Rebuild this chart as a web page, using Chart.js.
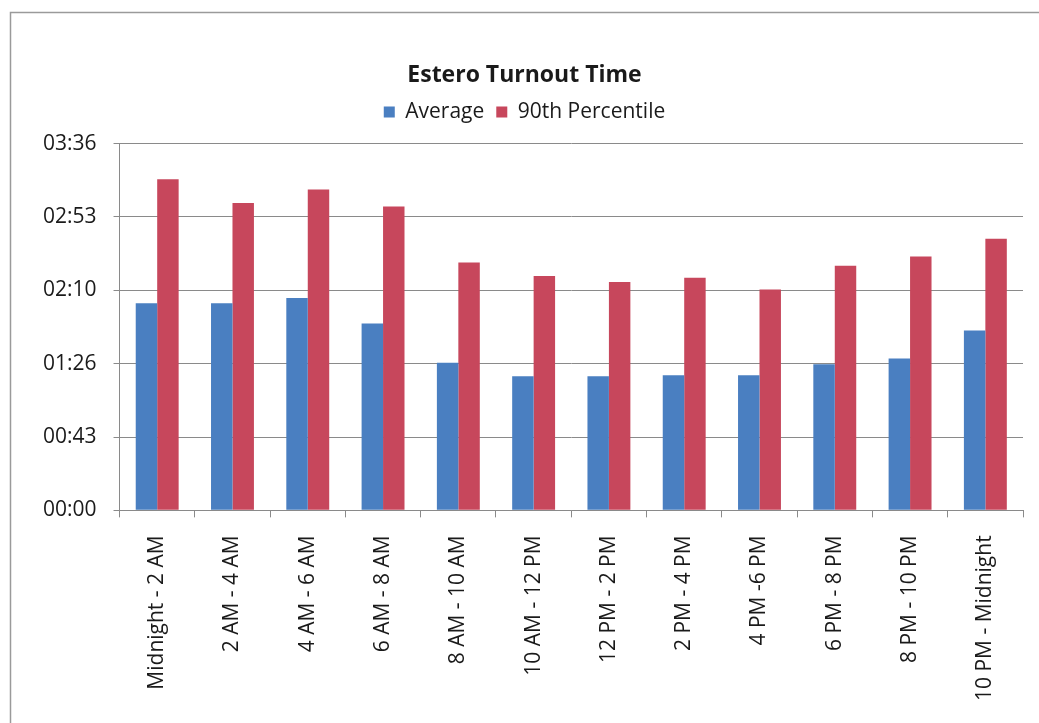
<!DOCTYPE html>
<html>
<head>
    <meta charset="UTF-8">
    <title>Estero Turnout Time</title>
    <script src="https://cdn.jsdelivr.net/npm/chart.js"></script>
    <style>
        body {
            margin: 0;
            padding: 0;
            background-color: #ffffff;
        }
        .chart-container {
            position: relative;
            width: 1039px;
            height: 723px;
        }
    </style>
</head>
<body>
    <div class="chart-container">
        <canvas id="turnoutChart" width="1039" height="723"></canvas>
    </div>

    <script>
        // time slots of the day
        const slots = [
            'Midnight - 2 AM', '2 AM - 4 AM', '4 AM - 6 AM', '6 AM - 8 AM',
            '8 AM - 10 AM', '10 AM - 12 PM', '12 PM - 2 PM', '2 PM - 4 PM',
            '4 PM -6 PM', '6 PM - 8 PM', '8 PM - 10 PM', '10 PM - Midnight'
        ];

        // turnout time in seconds
        const averageSec = [122, 122, 125, 110, 87, 79, 79, 79.5, 79.5, 86, 89.5, 106];
        const p90Sec = [195, 181, 189, 179, 146, 138, 134.5, 137, 130, 144, 149.5, 160];

        // y axis: 0 to 03:36 in steps of 43.2 s
        const yMax = 216;
        const yStep = 43.2;

        function mmss(sec) {
            const s = Math.round(sec);
            const m = Math.floor(s / 60);
            const r = s % 60;
            return String(m).padStart(2, '0') + ':' + String(r).padStart(2, '0');
        }

        // thin frame around the chart
        const framePlugin = {
            id: 'frame',
            beforeDraw(chart) {
                const c = chart.ctx;
                c.save();
                c.fillStyle = '#ffffff';
                c.fillRect(0, 0, chart.width, chart.height);
                c.strokeStyle = '#9a9a9a';
                c.lineWidth = 1.5;
                c.beginPath();
                c.moveTo(10.5, chart.height);
                c.lineTo(10.5, 12.5);
                c.lineTo(chart.width, 12.5);
                c.stroke();
                c.restore();
            }
        };

        // extra room under the legend
        const legendGapPlugin = {
            id: 'legendGap',
            beforeInit(chart) {
                const origFit = chart.legend.fit;
                chart.legend.fit = function () {
                    origFit.bind(chart.legend)();
                    this.height += 11;
                };
            }
        };

        const fontFamily = '"Open Sans", "Liberation Sans", sans-serif';

        new Chart(document.getElementById('turnoutChart').getContext('2d'), {
            type: 'bar',
            data: {
                labels: slots,
                datasets: [
                    {
                        label: 'Average',
                        data: averageSec,
                        backgroundColor: '#4a7fc1'
                    },
                    {
                        label: '90th Percentile',
                        data: p90Sec,
                        backgroundColor: '#c7475c'
                    }
                ]
            },
            options: {
                responsive: false,
                animation: false,
                layout: {
                    padding: { left: 26, right: 16, top: 62, bottom: 4 }
                },
                datasets: {
                    bar: {
                        categoryPercentage: 0.57,
                        barPercentage: 1.0
                    }
                },
                plugins: {
                    title: {
                        display: true,
                        text: 'Estero Turnout Time',
                        color: '#1a1a1a',
                        font: { family: fontFamily, size: 23, weight: 'bold' },
                        padding: { top: 0, bottom: 0 }
                    },
                    legend: {
                        display: true,
                        position: 'top',
                        labels: {
                            color: '#1a1a1a',
                            boxWidth: 11,
                            boxHeight: 11,
                            padding: 12,
                            font: { family: fontFamily, size: 21 }
                        }
                    },
                    tooltip: { enabled: false }
                },
                scales: {
                    x: {
                        grid: {
                            display: true,
                            drawOnChartArea: false,
                            drawTicks: true,
                            tickLength: 7,
                            color: '#8a8a8a'
                        },
                        border: { display: true, color: '#8a8a8a', width: 1 },
                        ticks: {
                            color: '#1a1a1a',
                            minRotation: 90,
                            maxRotation: 90,
                            autoSkip: false,
                            padding: 18,
                            font: { family: fontFamily, size: 21 }
                        }
                    },
                    y: {
                        min: 0,
                        max: yMax,
                        grid: {
                            color: '#8a8a8a',
                            lineWidth: 1,
                            drawTicks: true,
                            tickLength: 6
                        },
                        border: { display: true, color: '#8a8a8a', width: 1 },
                        ticks: {
                            stepSize: yStep,
                            color: '#1a1a1a',
                            padding: 17,
                            font: { family: fontFamily, size: 21 },
                            callback: (v) => mmss(v)
                        },
                        afterBuildTicks(axis) {
                            const t = [];
                            for (let v = 0; v <= yMax + 0.001; v += yStep) t.push({ value: v });
                            axis.ticks = t;
                        }
                    }
                }
            },
            plugins: [framePlugin, legendGapPlugin]
        });
    </script>
</body>
</html>
